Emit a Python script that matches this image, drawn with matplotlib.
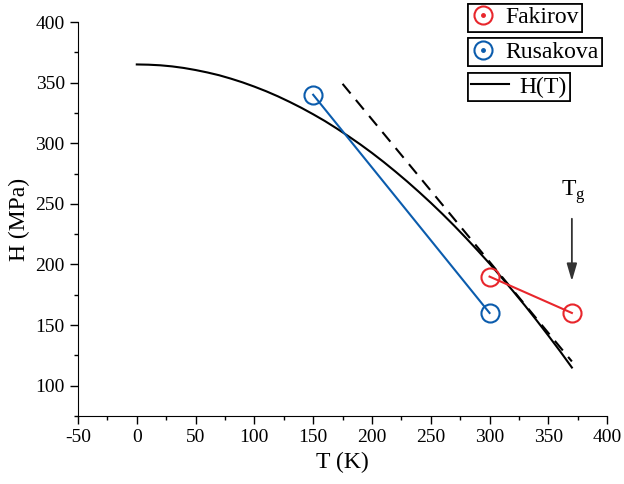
import numpy as np
import matplotlib.pyplot as plt
from matplotlib.lines import Line2D
from matplotlib.ticker import MultipleLocator
from matplotlib.legend_handler import HandlerTuple

plt.rcParams['font.family'] = ['Liberation Serif', 'DejaVu Serif']
plt.rcParams['axes.unicode_minus'] = False

# -----------------------
# Data
# -----------------------
fak_T = [300, 370]
fak_H = [190, 160]

rus_T = [150, 300]
rus_H = [340, 160]

# H(T) curve
curve_T = [0, 10, 20, 30, 40, 50, 60, 70, 80, 90, 100, 110, 120, 130, 140, 150,
           160, 170, 180, 190, 200, 210, 220, 230, 240, 250, 260, 270, 280, 290,
           300, 310, 320, 330, 340, 350, 360, 370]
curve_H = [365, 364.8, 364.3, 363.4, 362.1, 360.4, 358.4, 356.1, 353.3, 350.2,
           346.7, 342.9, 338.7, 334.1, 329.2, 323.9, 318.3, 312.2, 305.8, 299.1,
           292.0, 284.5, 276.6, 268.4, 259.8, 250.9, 241.6, 231.9, 221.8, 211.4,
           200.7, 189.5, 178.0, 166.2, 153.9, 141.3, 128.4, 115.0]

# dashed tangent
dash_T = [175, 370]
dash_H = [349, 120]

tg_T = 370
tg_from = 240
tg_to = 184

red = '#e8262c'
blue = '#0b5cad'

# -----------------------
# Figure
# -----------------------
fig = plt.figure(figsize=(6.24, 4.84), dpi=100)
ax = fig.add_axes([0.125, 0.1405, 0.848, 0.814])

ax.plot(curve_T, curve_H, color='black', lw=1.5)
ax.plot(dash_T, dash_H, color='black', lw=1.5, ls=(0, (6, 4)))
ax.plot(rus_T, rus_H, color=blue, lw=1.5, marker='o', ms=13,
        mfc='none', mec=blue, mew=1.5)
ax.plot(fak_T, fak_H, color=red, lw=1.5, marker='o', ms=13,
        mfc='none', mec=red, mew=1.5)

ax.annotate('', xy=(tg_T, tg_to), xytext=(tg_T, tg_from),
            arrowprops=dict(arrowstyle='-|>,head_length=0.75,head_width=0.22',
                            color='#333333', lw=1.3, mutation_scale=14))
ax.text(tg_T + 1, 248, r'T$_\mathregular{g}$', ha='center', va='bottom',
        fontsize=17)

ax.set_xlim(-50, 400)
ax.set_ylim(75, 400)
ax.xaxis.set_major_locator(MultipleLocator(50))
ax.xaxis.set_minor_locator(MultipleLocator(25))
ax.yaxis.set_major_locator(MultipleLocator(50))
ax.yaxis.set_minor_locator(MultipleLocator(25))
ax.set_yticks([100, 150, 200, 250, 300, 350, 400])
ax.tick_params(which='major', direction='out', length=6, width=1, labelsize=14)
ax.tick_params(which='minor', direction='out', length=3, width=1)
ax.spines['top'].set_visible(False)
ax.spines['right'].set_visible(False)
ax.set_xlabel('T (K)', fontsize=17)
ax.set_ylabel('H (MPa)', fontsize=17)

# -----------------------
# Legends (three boxes)
# -----------------------
def circ(c):
    return (Line2D([], [], ls='none', marker='o', ms=13, mfc='none', mec=c, mew=1.5),
            Line2D([], [], ls='none', marker='o', ms=2.5, mfc=c, mec=c))

entries = [(circ(red), 'Fakirov', 0.992, 1.0),
           (circ(blue), 'Rusakova', 0.921, 1.0),
           (Line2D([], [], color='black', lw=1.5), 'H(T)', 0.849, 1.6)]
for h, lab, y, hl in entries:
    leg = fig.legend([h], [lab], loc='upper left', bbox_to_anchor=(0.75, y),
                     fontsize=17, fancybox=False, framealpha=1,
                     edgecolor='black', handlelength=hl,
                     handletextpad=0.45, borderpad=0.13, borderaxespad=0,
                     handler_map={tuple: HandlerTuple(ndivide=1)})
    leg.get_frame().set_linewidth(1.2)
    fig.add_artist(leg)

fig.savefig('out.png', dpi=100)
